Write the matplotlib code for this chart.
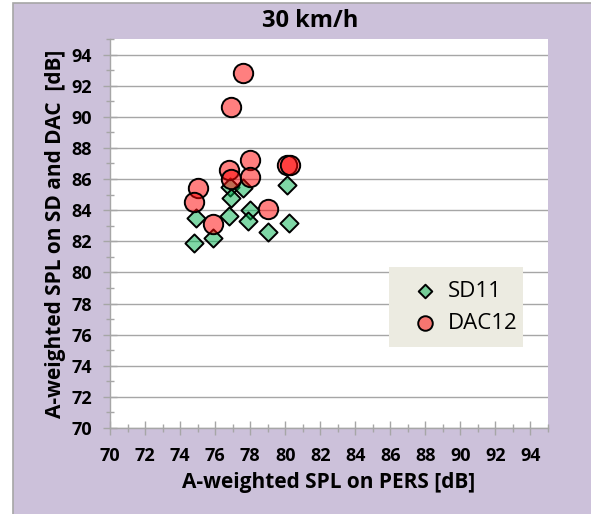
import numpy as np
import matplotlib.pyplot as plt
from matplotlib.patches import Rectangle

plt.rcParams['font.family'] = ['Open Sans', 'DejaVu Sans']
plt.rcParams['font.weight'] = 'bold'

# SD11 (diamonds)
sd_x = [80.1, 76.85, 77.6, 76.9, 74.9, 76.8, 78.0, 77.9, 80.2, 79.0, 75.9, 74.8]
sd_y = [85.6, 85.5, 85.4, 84.8, 83.5, 83.6, 84.0, 83.3, 83.2, 82.6, 82.2, 81.9]

# DAC12 (circles)
dac_x = [77.6, 76.9, 78.0, 76.8, 76.9, 78.0, 80.1, 80.3, 75.0, 74.8, 79.0, 75.9]
dac_y = [92.8, 90.6, 87.2, 86.6, 86.0, 86.1, 86.9, 86.9, 85.4, 84.5, 84.1, 83.1]

major_ticks = np.arange(70, 95, 2)

fig = plt.figure(figsize=(5.91, 5.14), dpi=100)
fig.patch.set_facecolor('white')
bg = Rectangle((13/591, -0.01), 1.0, (514-3)/514 + 0.01, transform=fig.transFigure,
               facecolor='#ccc1da', edgecolor='#a6a6a6', linewidth=1.2, zorder=-10)
fig.patches.append(bg)

ax = fig.add_axes([110/591, 1-428/514, 438/591, 389/514])
ax.set_zorder(1)
ax.set_facecolor('white')

ax.scatter(sd_x, sd_y, marker='D', s=85, facecolors=(0.0, 0.69, 0.31, 0.5),
           edgecolors='black', linewidths=1.4, label='SD11', zorder=3)
ax.scatter(dac_x, dac_y, marker='o', s=195, facecolors=(1.0, 0.0, 0.0, 0.5),
           edgecolors='black', linewidths=1.4, label='DAC12', zorder=4)

ax.set_xlim(70, 95)
ax.set_ylim(70, 95)
ax.set_xticks(major_ticks)
ax.set_yticks(major_ticks)
ax.set_xticks(np.arange(71, 96, 2), minor=True)
ax.set_yticks(np.arange(71, 96, 2), minor=True)
ax.grid(axis='y', which='major', color='#a6a6a6', linewidth=1.0)
ax.set_axisbelow(True)

for s in ['top', 'right']:
    ax.spines[s].set_visible(False)
for s in ['left', 'bottom']:
    ax.spines[s].set_color('#a6a6a6')
    ax.spines[s].set_linewidth(1.0)

ax.tick_params(which='major', direction='inout', length=10, width=1, color='#a6a6a6',
               labelsize=13)
ax.tick_params(which='minor', direction='inout', length=6, width=1, color='#a6a6a6')
ax.tick_params(axis='y', pad=8)
ax.tick_params(axis='x', pad=9)

ax.set_xlabel('A-weighted SPL on PERS [dB]', fontsize=15, fontweight='bold', labelpad=5)
ax.set_ylabel('A-weighted SPL on SD and DAC  [dB]', fontsize=15, fontweight='bold', labelpad=4)
fig.text(310/591, 1-21/514, '30 km/h', ha='center', va='center', fontsize=17, fontweight='bold')

leg = ax.legend(loc='lower left', bbox_to_anchor=(0.637, 0.208, 0.306, 0.226), mode='expand',
                prop={'size': 16, 'weight': 'normal'}, frameon=True, fancybox=False,
                handletextpad=0.05, borderaxespad=0, labelspacing=0.5, markerscale=0.75,
                borderpad=0.6)
leg.get_frame().set_facecolor('#ecebe1')
leg.get_frame().set_edgecolor('none')
leg.get_frame().set_alpha(1)

fig.savefig('out.png', dpi=100, facecolor=fig.get_facecolor())
